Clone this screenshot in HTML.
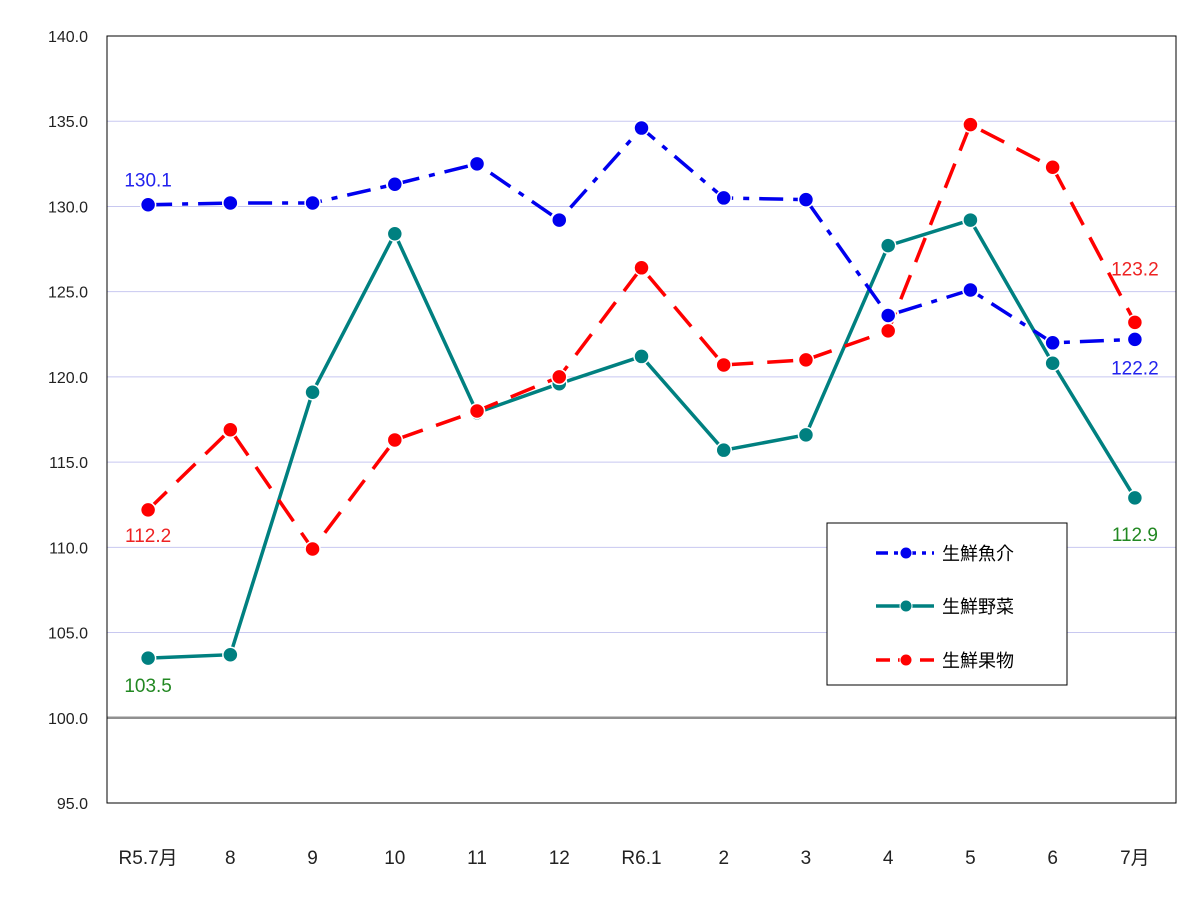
<!DOCTYPE html>
<html><head><meta charset="utf-8"><style>
body{margin:0;background:#fff;}
svg text{font-family:"Liberation Sans","Noto Sans CJK JP",sans-serif;}
</style></head><body>
<svg id="chart" width="1199" height="915" xmlns="http://www.w3.org/2000/svg">
<rect width="1199" height="915" fill="#fff"/>
<g id="grid"></g><g id="series"></g><g id="labels"></g>
</svg>
<script>
const categories=["R5.7月","8","9","10","11","12","R6.1","2","3","4","5","6","7月"];
const fish=[130.1,130.2,130.2,131.3,132.5,129.2,134.6,130.5,130.4,123.6,125.1,122.0,122.2];
const veg=[103.5,103.7,119.1,128.4,117.9,119.6,121.2,115.7,116.6,127.7,129.2,120.8,112.9];
const fruit=[112.2,116.9,109.9,116.3,118.0,120.0,126.4,120.7,121.0,122.7,134.8,132.3,123.2];
const yTicks=[95,100,105,110,115,120,125,130,135,140];
const NS="http://www.w3.org/2000/svg";
const L=107,R=1176,T=36,B=803,yMin=95,yMax=140;
const x=i=>L+(R-L)/categories.length*(i+0.5);
const y=v=>B-(v-yMin)/(yMax-yMin)*(B-T);
function mk(tag,attrs,parent){const e=document.createElementNS(NS,tag);for(const k in attrs)e.setAttribute(k,attrs[k]);parent.appendChild(e);return e;}
const svg=document.getElementById('chart');
const grid=document.getElementById('grid'),ser=document.getElementById('series'),lab=document.getElementById('labels');
yTicks.forEach(t=>{
  if(t!==95&&t!==140&&t!==100){const g=mk('line',{x1:L,x2:R,y1:y(t),y2:y(t),stroke:'#c8c8f0','stroke-width':1},grid);
  
  }
  const tx=mk('text',{x:88,y:y(t)+6,'text-anchor':'end','font-size':16,fill:'#222'},lab);tx.textContent=t.toFixed(1);
  
  
});
const base=mk('line',{x1:L,x2:R,y1:y(100),y2:y(100),stroke:'#909090','stroke-width':2.5},grid);


const frame=mk('rect',{x:L,y:T,width:R-L,height:B-T,fill:'none',stroke:'#000','stroke-width':1},grid);


categories.forEach((c,i)=>{const t=mk('text',{x:x(i),y:864,'text-anchor':'middle','font-size':19,fill:'#222'},lab);t.textContent=c;
  
  });
const series=[
 {d:veg,c:'#008080',dash:'',name:'vegetables-line'},
 {d:fruit,c:'#ff0000',dash:'26,14',name:'fruit-line'},
 {d:fish,c:'#0000ee',dash:'24,10,6,10',name:'fish-line'}];
series.forEach(s=>{
  const p=mk('polyline',{points:s.d.map((v,i)=>x(i)+','+y(v)).join(' '),fill:'none',stroke:s.c,'stroke-width':3.5,'stroke-dasharray':s.dash},ser);
  
  
  s.d.forEach((v,i)=>{const m=mk('circle',{cx:x(i),cy:y(v),r:7.5,fill:s.c,stroke:'#fff','stroke-width':1.5},ser);
    
    });
});
function lbl(txt,xx,yy,c){const t=mk('text',{x:xx,y:yy,'text-anchor':'middle','font-size':19,fill:c},lab);t.textContent=txt;
  
  }
lbl(fish[0].toFixed(1),x(0),y(fish[0])-18,'#2222ee');
lbl(fish[12].toFixed(1),x(12),y(fish[12])+35,'#2222ee');
lbl(fruit[0].toFixed(1),x(0),y(fruit[0])+32,'#ee2222');
lbl(fruit[12].toFixed(1),x(12),y(fruit[12])-47,'#ee2222');
lbl(veg[0].toFixed(1),x(0),y(veg[0])+34,'#228822');
lbl(veg[12].toFixed(1),x(12),y(veg[12])+43,'#228822');
const lg=mk('g',{},svg);


mk('rect',{x:827,y:523,width:240,height:162,fill:'#fff',stroke:'#000','stroke-width':1},lg);
const leg=[['生鮮魚介','#0000ee','12,6,4,6',553],['生鮮野菜','#008080','',606],['生鮮果物','#ff0000','14,8',660]];
leg.forEach(l=>{
  const e=mk('g',{},lg);
  
  
  mk('line',{x1:876,x2:934,y1:l[3],y2:l[3],stroke:l[1],'stroke-width':3.5,'stroke-dasharray':l[2]},e);
  mk('circle',{cx:906,cy:l[3],r:6,fill:l[1],stroke:'#fff','stroke-width':1},e);
  const t=mk('text',{x:942,y:l[3]+7,'font-size':18,fill:'#000'},e);t.textContent=l[0];
});
</script>
</body></html>
